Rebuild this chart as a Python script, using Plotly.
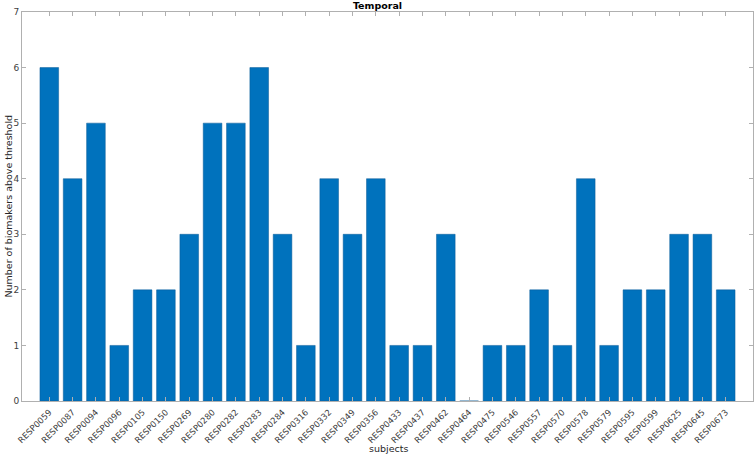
import plotly.graph_objects as go

subjects = ["RESP0059","RESP0087","RESP0094","RESP0096","RESP0105","RESP0150","RESP0269",
            "RESP0280","RESP0282","RESP0283","RESP0284","RESP0316","RESP0332","RESP0349",
            "RESP0356","RESP0433","RESP0437","RESP0462","RESP0464","RESP0475","RESP0546",
            "RESP0557","RESP0570","RESP0578","RESP0579","RESP0595","RESP0599","RESP0625",
            "RESP0645","RESP0673"]
counts = [6,4,5,1,2,2,3,5,5,6,3,1,4,3,4,1,1,3,0,1,1,2,1,4,1,2,2,3,3,2]

x_pos = list(range(len(subjects)))

fig = go.Figure(go.Bar(
    x=x_pos, y=counts, width=0.8,
    marker=dict(color="#0072BD", line=dict(color="#0a5a96", width=0.5)),
))

axis_common = dict(
    showline=True, linecolor="#b0b0b0", linewidth=1, mirror="ticks",
    ticks="inside", ticklen=4, tickcolor="#b0b0b0",
    tickfont=dict(family="DejaVu Sans", size=9, color="#404040"),
    showgrid=False, zeroline=False, automargin=False,
)

fig.update_layout(
    width=755, height=456,
    margin=dict(l=22, r=2, t=12, b=55),
    paper_bgcolor="white", plot_bgcolor="white",
    showlegend=False,
    title=dict(text="<b>Temporal</b>", x=0.5, xanchor="center", y=0.995, yanchor="top",
               font=dict(family="DejaVu Sans", size=9.5, color="#000000")),
    xaxis=dict(axis_common, tickmode="array", tickvals=x_pos, ticktext=subjects,
               tickangle=-45, range=[-1.17, 30.17], ticklabelstandoff=2,
               tickfont=dict(family="DejaVu Sans", size=8.5, color="#404040")),
    yaxis=dict(axis_common, range=[0, 7], dtick=1),
    annotations=[
        dict(text="subjects", xref="paper", yref="paper", x=0.502, y=-0.103,
             xanchor="center", yanchor="top", showarrow=False,
             font=dict(family="DejaVu Sans", size=9.5, color="#262626")),
        dict(text="Number of biomakers above threshold", xref="paper", yref="paper",
             x=-0.019, y=0.5, xanchor="center", yanchor="middle", textangle=-90,
             showarrow=False, font=dict(family="DejaVu Sans", size=9.5, color="#262626")),
    ],
)

fig.write_html("out.html", config={"displayModeBar": False},
               post_script="document.body.style.margin='0';")
